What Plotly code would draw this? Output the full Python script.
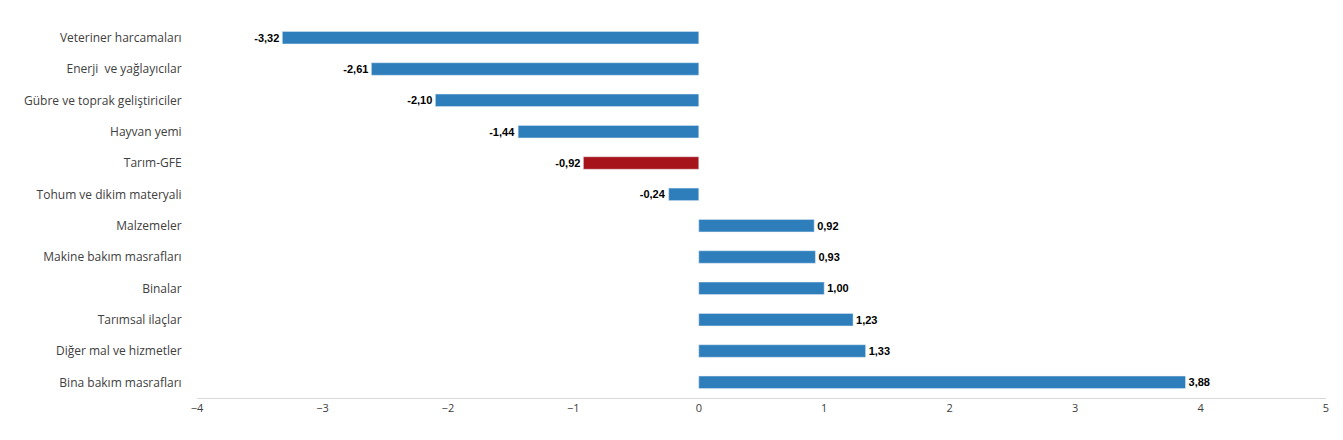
import plotly.graph_objects as go

categories = ["Veteriner harcamaları", "Enerji  ve yağlayıcılar", "Gübre ve toprak geliştiriciler",
              "Hayvan yemi", "Tarım-GFE", "Tohum ve dikim materyali", "Malzemeler",
              "Makine bakım masrafları", "Binalar", "Tarımsal ilaçlar",
              "Diğer mal ve hizmetler", "Bina bakım masrafları"]
values = [-3.32, -2.61, -2.10, -1.44, -0.92, -0.24, 0.92, 0.93, 1.00, 1.23, 1.33, 3.88]
labels = [f"{v:.2f}".replace(".", ",") for v in values]
colors = ["#A6131B" if c == "Tarım-GFE" else "#2F7EBC" for c in categories]

fig = go.Figure(go.Bar(
    x=values, y=categories, orientation="h", width=0.4,
    marker_color=colors, text=labels, textposition="outside",
    textfont=dict(family="Liberation Sans", size=11, color="black", weight="bold"),
    cliponaxis=False,
))
fig.update_layout(
    width=1343, height=440, margin=dict(l=189, r=25, t=14, b=50),
    plot_bgcolor="white", paper_bgcolor="white", showlegend=False,
    font=dict(family="Open Sans", size=12, color="#404040"),
)
fig.update_xaxes(range=[-4, 5], dtick=1, showgrid=False, zeroline=False,
                 showline=True, linecolor="#D9D9D9", ticks="", tickfont=dict(size=11))
fig.update_yaxes(autorange="reversed", showgrid=False, zeroline=False, ticks="outside",
                 ticklen=12, tickcolor="white", tickfont=dict(size=12))
fig.write_html("out.html")
